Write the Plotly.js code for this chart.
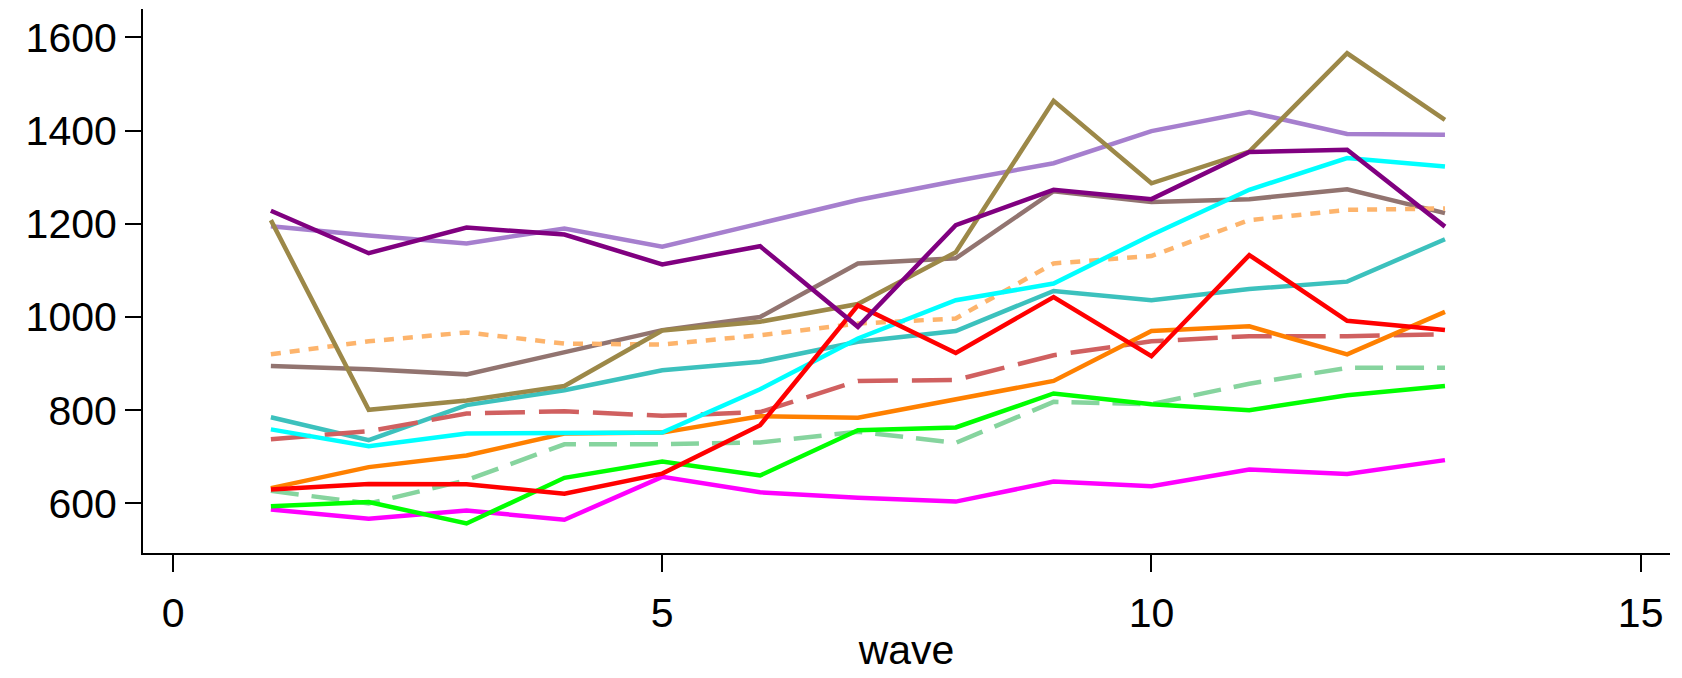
<!DOCTYPE html>
<html>
<head>
<meta charset="utf-8">
<script src="https://cdn.plot.ly/plotly-3.0.1.min.js"></script>
<style>
html,body{margin:0;padding:0;background:#fff;}
#chart{width:1682px;height:678px;}
</style>
</head>
<body>
<div id="chart"></div>
<script>
const wave = [1,2,3,4,5,6,7,8,9,10,11,12,13];

const magenta    = [587,567,585,565,657,624,612,604,647,637,673,663,693];
const lightGreen = [627,600,650,727,727,731,754,730,818,813,857,891,891];
const green      = [594,603,557,655,690,660,757,763,836,813,800,832,852];
const orange     = [633,678,703,750,752,787,784,823,863,970,980,920,1011];
const red        = [630,642,641,621,664,768,1025,923,1043,916,1133,992,972];
const indianRed  = [738,755,793,798,788,796,863,865,918,948,959,959,963];
const teal       = [785,736,811,843,886,904,947,970,1056,1036,1060,1076,1167];
const cyan       = [759,723,750,752,752,845,954,1036,1072,1176,1273,1341,1323];
const sandy      = [920,948,967,943,941,961,986,997,1115,1131,1208,1230,1233];
const grayBrown  = [895,888,877,925,972,1000,1115,1126,1270,1247,1253,1274,1223];
const olive      = [1208,801,821,852,971,990,1028,1139,1464,1287,1355,1566,1423];
const lavender   = [1195,1175,1158,1190,1151,1202,1251,1292,1330,1399,1440,1393,1391];
const purple     = [1228,1137,1192,1177,1113,1152,979,1197,1273,1253,1354,1359,1194];

const xTicks = [0,5,10,15];
const yTicks = [600,800,1000,1200,1400,1600];

const W = 4.5;
function tr(y, color, dash){
  return {x: wave, y: y, type:'scatter', mode:'lines',
    line:{color:color, width:W, dash: dash || 'solid'}, hoverinfo:'skip'};
}

const data = [
  tr(lavender, '#a67fce'),
  tr(grayBrown, '#927470'),
  tr(sandy, '#fdb46c', '10px,9px'),
  tr(teal, '#3cc1bd'),
  tr(indianRed, '#d06060', '40px,14px'),
  tr(lightGreen, '#86d49e', '28px,13px'),
  tr(magenta, '#ff00ff'),
  tr(orange, '#ff8000'),
  tr(green, '#00ff00'),
  tr(cyan, '#00ffff'),
  tr(olive, '#9c8848'),
  tr(red, '#ff0000'),
  tr(purple, '#800080')
];

const font = {family:'Liberation Sans, Arial, sans-serif', color:'#000', size:41};

const layout = {
  width:1682, height:678,
  margin:{l:143, r:12, t:9, b:125, pad:0},
  paper_bgcolor:'#fff', plot_bgcolor:'#fff',
  showlegend:false,
  font: font,
  xaxis:{
    range:[-0.307, 15.3], tickmode:'array', tickvals:xTicks, ticktext:xTicks.map(String),
    showgrid:false, zeroline:false, showline:true, linecolor:'#000', linewidth:2,
    ticks:'outside', ticklen:17, tickwidth:2, tickcolor:'#000',
    ticklabelstandoff:6,
    tickfont:font,
    title:{text:'wave', font:font, standoff:0}
  },
  yaxis:{
    range:[493.7, 1661], tickmode:'array', tickvals:yTicks, ticktext:yTicks.map(String),
    showgrid:false, zeroline:false, showline:true, linecolor:'#000', linewidth:2,
    ticks:'outside', ticklen:16, tickwidth:2, tickcolor:'#000',
    tickfont:font
  }
};

Plotly.newPlot('chart', data, layout, {displayModeBar:false, staticPlot:true});
</script>
</body>
</html>
